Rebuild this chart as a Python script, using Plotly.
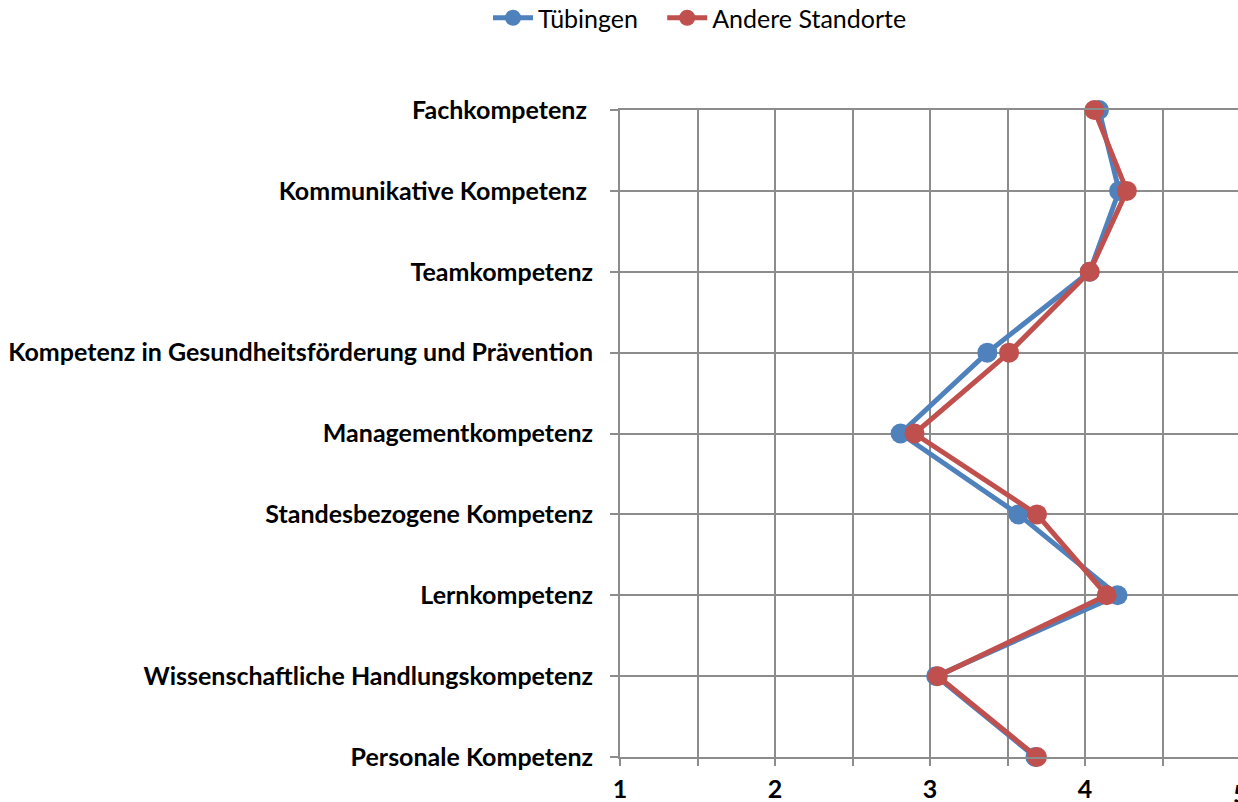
import plotly.graph_objects as go

categories = [
    "Fachkompetenz\u00a0",
    "Kommunikative Kompetenz\u00a0",
    "Teamkompetenz",
    "Kompetenz in Gesundheitsförderung und Prävention",
    "Managementkompetenz",
    "Standesbezogene Kompetenz",
    "Lernkompetenz",
    "Wissenschaftliche Handlungskompetenz",
    "Personale Kompetenz",
]
series_names = ["Tübingen", "Andere Standorte"]
tuebingen = [4.09, 4.22, 4.03, 3.37, 2.81, 3.57, 4.21, 3.04, 3.68]
andere = [4.06, 4.27, 4.03, 3.51, 2.90, 3.69, 4.14, 3.05, 3.69]
x_tickvals = [1, 1.5, 2, 2.5, 3, 3.5, 4, 4.5, 5]
x_ticktext = ["1", "", "2", "", "3", "", "4", "", "5"]

ypos = list(range(len(categories)))
GRID = "#8c8c8c"
FONT = "Lato"

fig = go.Figure()
fig.add_trace(go.Scatter(
    x=tuebingen, y=ypos, name=series_names[0] + "\u00a0\u00a0\u00a0",
    mode="lines+markers",
    line=dict(color="#4F81BD", width=5),
    marker=dict(color="#4F81BD", size=20),
    cliponaxis=False,
))
fig.add_trace(go.Scatter(
    x=andere, y=ypos, name=series_names[1], mode="lines+markers",
    line=dict(color="#C0504D", width=5),
    marker=dict(color="#C0504D", size=20),
    cliponaxis=False,
))

W, H = 1238, 802
L, T, B = 620, 110, 45
px_per_unit = 155.0
xmax = 1 + (W - L) / px_per_unit

fig.update_layout(
    width=W, height=H,
    margin=dict(l=L, r=0, t=T, b=B),
    plot_bgcolor="white", paper_bgcolor="white",
    font=dict(family=FONT, color="black"),
    showlegend=True,
    legend=dict(
        orientation="h", xref="container", yref="container",
        x=700 / W, xanchor="center", y=1 - 18 / H, yanchor="middle",
        font=dict(family=FONT, size=25, color="black"),
        itemwidth=40,
    ),
    xaxis=dict(
        range=[1, xmax], tickvals=x_tickvals, ticktext=x_ticktext,
        showgrid=True, gridcolor=GRID, gridwidth=2,
        ticks="outside", ticklen=7, tickwidth=2, tickcolor=GRID,
        zeroline=False, showline=True, linecolor=GRID, linewidth=2,
        mirror=True, automargin=False,
        tickfont=dict(family=FONT, size=25, color="black", weight="bold"),
        ticklabelstandoff=2,
    ),
    yaxis=dict(
        range=[8, 0], tickvals=ypos, ticktext=categories,
        showgrid=True, gridcolor=GRID, gridwidth=2,
        ticks="outside", ticklen=8, tickwidth=2, tickcolor=GRID,
        zeroline=False, showline=True, linecolor=GRID, linewidth=2,
        automargin=False,
        tickfont=dict(family=FONT, size=25, color="black", weight="bold"),
        ticklabelstandoff=12,
    ),
    annotations=[dict(
        text="<b>5</b>", xref="paper", yref="paper",
        x=(1240 - L) / (W - L), y=-(793 - 757) / (H - T - B),
        xanchor="center", yanchor="middle", showarrow=False,
        font=dict(family=FONT, size=25, color="black"),
    )],
)

fig.write_html("out.html", config={"displayModeBar": False},
               post_script="document.body.style.margin='0';document.body.style.overflow='hidden';")
